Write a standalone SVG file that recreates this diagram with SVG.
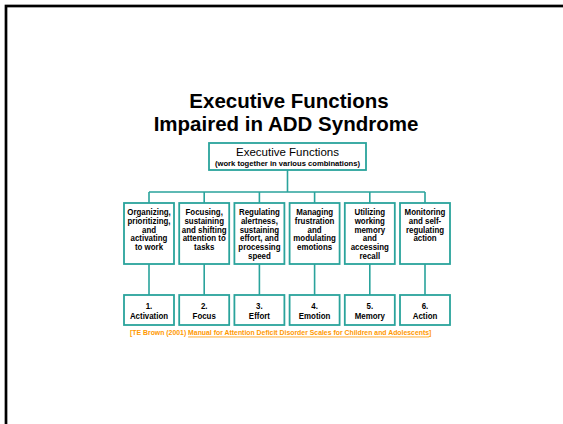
<svg xmlns="http://www.w3.org/2000/svg" width="563" height="424" viewBox="0 0 563 424">
<style>
.frame{fill:none;stroke:#000;stroke-width:2.7}
.box{fill:#fff;stroke:#2aa39c;stroke-width:1.8}
.conn{fill:none;stroke:#2aa39c;stroke-width:1.6}
.title{font-family:"Liberation Sans",Arial,sans-serif;font-weight:bold;font-size:20.5px;fill:#000;text-anchor:middle}
.t{font-family:"Liberation Sans",Arial,sans-serif;font-weight:bold;font-size:8.6px;fill:#000;text-anchor:middle}
.hd{font-family:"Liberation Sans",Arial,sans-serif;font-size:11.5px;fill:#000;text-anchor:middle}
.sub{font-family:"Liberation Sans",Arial,sans-serif;font-weight:bold;font-size:7.6px;fill:#000;text-anchor:middle}
.cite{font-family:"Liberation Sans",Arial,sans-serif;font-weight:bold;font-size:8px;fill:#ff9900}
</style>
<rect class="frame" x="6" y="6" width="620" height="480"/>
<g id="title">
<text class="title" x="289" y="108">Executive Functions</text>
<text class="title" x="286" y="131">Impaired in ADD Syndrome</text>
</g>
<g id="connectors">
<path class="conn" d="M287.5,170 V192 M149,192 H425 M149,192 V203 M204.2,192 V203 M259.4,192 V203 M314.6,192 V203 M369.8,192 V203 M425,192 V203"/>
<path class="conn" d="M149,264 V295 M204.2,264 V295 M259.4,264 V295 M314.6,264 V295 M369.8,264 V295 M425,264 V295"/>
</g>
<g id="root">
<rect class="box" x="209" y="143" width="157" height="27"/>
<text class="hd" x="287.5" y="156">Executive Functions</text>
<text class="sub" x="287.5" y="166" textLength="145" lengthAdjust="spacingAndGlyphs">(work together in various combinations)</text>
</g>
<g id="f1">
<rect class="box" x="124" y="203" width="50" height="61"/>
<g transform="translate(149,0) scale(0.92,1)">
<text class="t" x="0" y="215">Organizing,</text>
<text class="t" x="0" y="223.8">prioritizing,</text>
<text class="t" x="0" y="232.6">and</text>
<text class="t" x="0" y="241.4">activating</text>
<text class="t" x="0" y="250.2">to work</text>
</g>
</g>
<g id="f2">
<rect class="box" x="179.2" y="203" width="50" height="61"/>
<g transform="translate(204.2,0) scale(0.92,1)">
<text class="t" x="0" y="215">Focusing,</text>
<text class="t" x="0" y="223.8">sustaining</text>
<text class="t" x="0" y="232.6">and shifting</text>
<text class="t" x="0" y="241.4">attention to</text>
<text class="t" x="0" y="250.2">tasks</text>
</g>
</g>
<g id="f3">
<rect class="box" x="234.4" y="203" width="50" height="61"/>
<g transform="translate(259.4,0) scale(0.92,1)">
<text class="t" x="0" y="215">Regulating</text>
<text class="t" x="0" y="223.8">alertness,</text>
<text class="t" x="0" y="232.6">sustaining</text>
<text class="t" x="0" y="241.4">effort, and</text>
<text class="t" x="0" y="250.2">processing</text>
<text class="t" x="0" y="259">speed</text>
</g>
</g>
<g id="f4">
<rect class="box" x="289.6" y="203" width="50" height="61"/>
<g transform="translate(314.6,0) scale(0.92,1)">
<text class="t" x="0" y="215">Managing</text>
<text class="t" x="0" y="223.8">frustration</text>
<text class="t" x="0" y="232.6">and</text>
<text class="t" x="0" y="241.4">modulating</text>
<text class="t" x="0" y="250.2">emotions</text>
</g>
</g>
<g id="f5">
<rect class="box" x="344.8" y="203" width="50" height="61"/>
<g transform="translate(369.8,0) scale(0.92,1)">
<text class="t" x="0" y="215">Utilizing</text>
<text class="t" x="0" y="223.8">working</text>
<text class="t" x="0" y="232.6">memory</text>
<text class="t" x="0" y="241.4">and</text>
<text class="t" x="0" y="250.2">accessing</text>
<text class="t" x="0" y="259">recall</text>
</g>
</g>
<g id="f6">
<rect class="box" x="400" y="203" width="50" height="61"/>
<g transform="translate(425,0) scale(0.92,1)">
<text class="t" x="0" y="215">Monitoring</text>
<text class="t" x="0" y="223.8">and self-</text>
<text class="t" x="0" y="232.6">regulating</text>
<text class="t" x="0" y="241.4">action</text>
</g>
</g>
<g id="n1">
<rect class="box" x="124" y="295" width="50" height="30"/>
<g transform="translate(149,0) scale(0.92,1)">
<text class="t" x="0" y="309.5">1.</text>
<text class="t" x="0" y="318.8">Activation</text>
</g>
</g>
<g id="n2">
<rect class="box" x="179.2" y="295" width="50" height="30"/>
<g transform="translate(204.2,0) scale(0.92,1)">
<text class="t" x="0" y="309.5">2.</text>
<text class="t" x="0" y="318.8">Focus</text>
</g>
</g>
<g id="n3">
<rect class="box" x="234.4" y="295" width="50" height="30"/>
<g transform="translate(259.4,0) scale(0.92,1)">
<text class="t" x="0" y="309.5">3.</text>
<text class="t" x="0" y="318.8">Effort</text>
</g>
</g>
<g id="n4">
<rect class="box" x="289.6" y="295" width="50" height="30"/>
<g transform="translate(314.6,0) scale(0.92,1)">
<text class="t" x="0" y="309.5">4.</text>
<text class="t" x="0" y="318.8">Emotion</text>
</g>
</g>
<g id="n5">
<rect class="box" x="344.8" y="295" width="50" height="30"/>
<g transform="translate(369.8,0) scale(0.92,1)">
<text class="t" x="0" y="309.5">5.</text>
<text class="t" x="0" y="318.8">Memory</text>
</g>
</g>
<g id="n6">
<rect class="box" x="400" y="295" width="50" height="30"/>
<g transform="translate(425,0) scale(0.92,1)">
<text class="t" x="0" y="309.5">6.</text>
<text class="t" x="0" y="318.8">Action</text>
</g>
</g>
<g id="citation" transform="translate(130,0) scale(0.861,1)">
<text class="cite" x="0" y="335.5">[TE Brown (2001) <tspan text-decoration="underline">Manual for Attention Deficit Disorder Scales for Children and Adolescents</tspan>]</text>
</g>
</svg>
